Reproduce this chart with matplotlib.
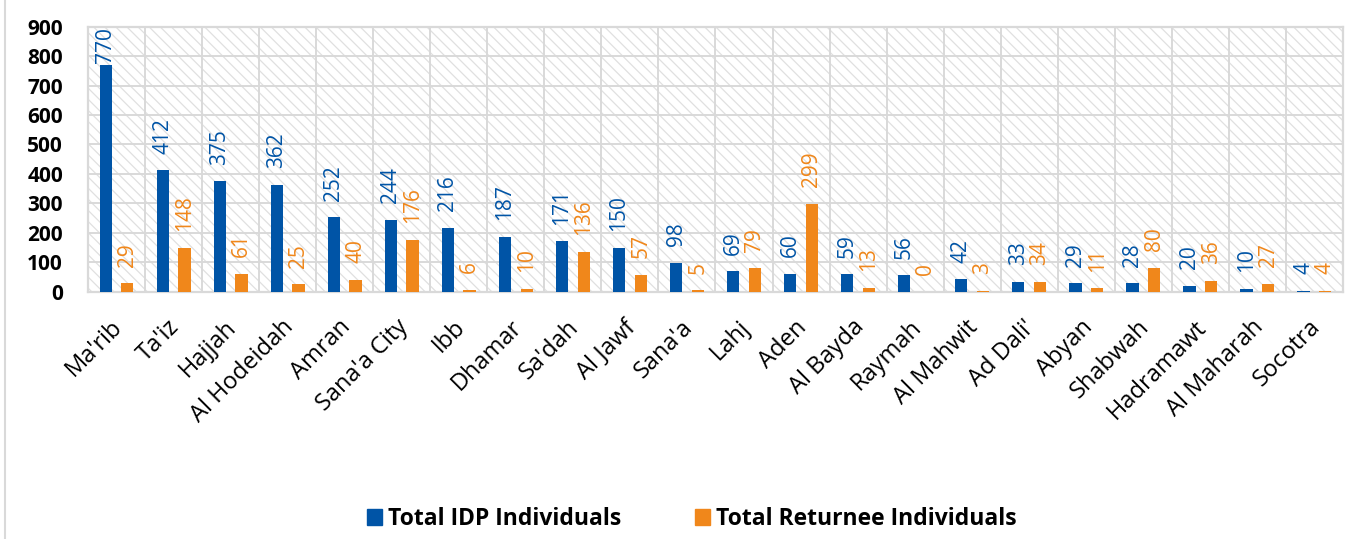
import numpy as np
import matplotlib
matplotlib.use("Agg")
import matplotlib.pyplot as plt
import matplotlib.transforms as mtransforms
from matplotlib.patches import Rectangle, Patch
from matplotlib.lines import Line2D

governorates = ["Ma'rib", "Ta'iz", "Hajjah", "Al Hodeidah", "Amran", "Sana'a City", "Ibb",
                "Dhamar", "Sa'dah", "Al Jawf", "Sana'a", "Lahj", "Aden", "Al Bayda", "Raymah",
                "Al Mahwit", "Ad Dali'", "Abyan", "Shabwah", "Hadramawt", "Al Maharah", "Socotra"]
idp_individuals = [770, 412, 375, 362, 252, 244, 216, 187, 171, 150, 98,
                   69, 60, 59, 56, 42, 33, 29, 28, 20, 10, 4]
returnee_individuals = [29, 148, 61, 25, 40, 176, 6, 10, 136, 57, 5,
                        79, 299, 13, 0, 3, 34, 11, 80, 36, 27, 4]
y_ticks = list(range(0, 901, 100))
series_names = ["Total IDP Individuals", "Total Returnee Individuals"]

BLUE = "#0054A6"
ORANGE = "#F0871B"
GRID = "#D9D9D9"
YMAX = 900

plt.rcParams['font.family'] = ['Open Sans', 'DejaVu Sans']
plt.rcParams['hatch.linewidth'] = 0.9

fig = plt.figure(figsize=(13.62, 5.39), dpi=100)
ax = fig.add_axes([0.0646, 0.4588, 0.9214, 0.4917])

x = np.arange(len(governorates))

# hatched plot background
bg = Rectangle((0, 0), 1, 1, transform=ax.transAxes, facecolor='white',
               edgecolor='#E0E0E0', hatch='\\\\\\', linewidth=0, zorder=0)
ax.add_patch(bg)

w = 0.215
off = 0.19
ax.bar(x - off, idp_individuals, width=w, color=BLUE, zorder=3)
ax.bar(x + off, returnee_individuals, width=w, color=ORANGE, zorder=3)

# labels sit ~12pt above the bar, pushed down when they would leave the plot area
ax_h_pt = 0.4917 * 5.39 * 72
def label_gap(v):
    free = (YMAX - v) / YMAX * ax_h_pt - len(str(v)) * 8.6 - 1
    return max(1.5, min(12, free))

for vals, dx, col in [(idp_individuals, -off, BLUE), (returnee_individuals, off, ORANGE)]:
    for xi, v in zip(x, vals):
        ax.annotate(str(v), (xi + dx, v), xytext=(0, label_gap(v)), textcoords='offset points',
                    rotation=90, ha='center', va='bottom', color=col, fontsize=15, zorder=4)

ax.set_xlim(-0.5, len(governorates) - 0.5)
ax.set_ylim(0, YMAX)
ax.set_yticks(y_ticks)
ax.set_yticklabels([str(t) for t in y_ticks], fontsize=15, fontweight='bold')
ax.set_xticks(x)
ax.set_xticklabels(governorates, rotation=45, ha='right', rotation_mode='anchor', fontsize=17)
ax.set_xticks(x[:-1] + 0.5, minor=True)
ax.tick_params(axis='both', which='both', length=0)
ax.tick_params(axis='y', pad=18)
ax.tick_params(axis='x', pad=17)
shift = mtransforms.ScaledTranslation(-6 / 100, 0, fig.dpi_scale_trans)
for lbl in ax.get_xticklabels():
    lbl.set_transform(lbl.get_transform() + shift)

ax.grid(axis='y', which='major', color=GRID, linewidth=1.4, zorder=1)
ax.grid(axis='x', which='minor', color=GRID, linewidth=1.4, zorder=1)
ax.set_axisbelow(True)
for s in ax.spines.values():
    s.set_color(GRID)
    s.set_linewidth(1.6)

handles = [Patch(color=BLUE), Patch(color=ORANGE)]
fig.legend(handles, series_names, loc='center', bbox_to_anchor=(0.508, 0.037), ncol=2,
           frameon=False, prop={'weight': 'bold', 'size': 16.5}, handlelength=0.65,
           handleheight=0.65, columnspacing=3.2, handletextpad=0.28)

fig.add_artist(Line2D([0.004, 0.004], [0, 1], color=GRID, linewidth=1.5))

fig.savefig("out.png", dpi=100, facecolor='white')
